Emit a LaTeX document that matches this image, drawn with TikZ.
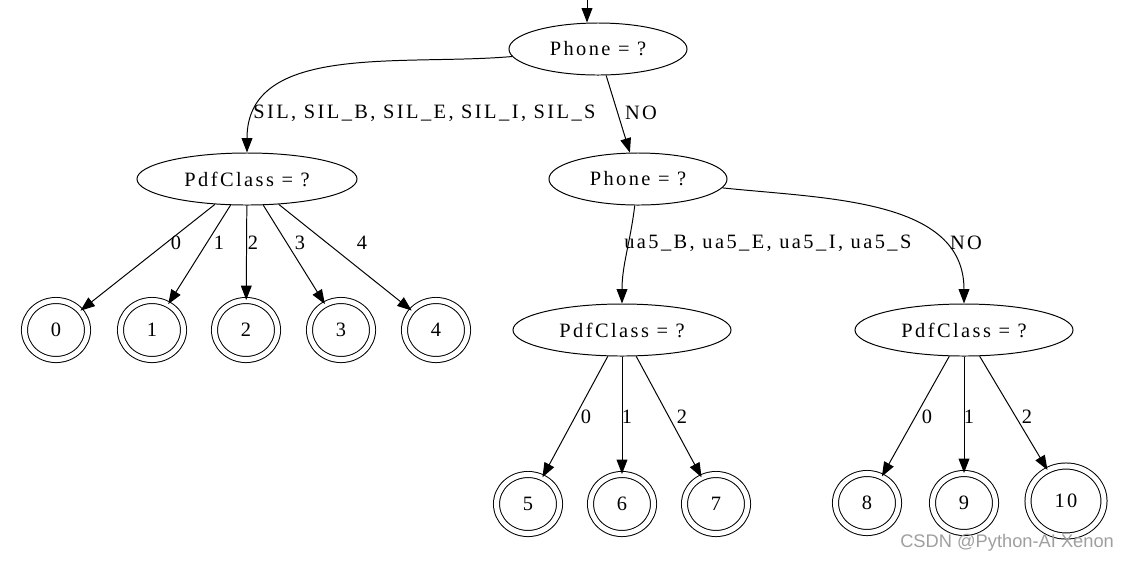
\documentclass[tikz,border=0pt]{standalone}
\usepackage{fontspec}
\setmainfont{Liberation Serif}[LetterSpace=12]
\newfontfamily\wmfont{Liberation Sans}
\usetikzlibrary{positioning, shapes, arrows.meta, calc}

\begin{document}
\begin{tikzpicture}[x=0.025cm, y=-0.025cm,
    font=\fontsize{14.5}{17}\selectfont,
    test/.style={ellipse, draw, line width=0.7pt, inner sep=0pt, minimum width=#1, minimum height=1.3cm},
    leaf/.style={ellipse, draw, double, double distance=3.6pt, line width=0.7pt, inner sep=0pt, minimum width=1.575cm, minimum height=1.475cm},
    branch/.style={-{Triangle[length=0.36cm, width=0.27cm]}, line width=0.7pt},
    lbl/.style={inner sep=0pt}]
    \useasboundingbox (0,0) rectangle (1129,562);

    % Nodes
    \node[test=4.45cm] (root) at (598,49) {Phone = ?};
    \node[test=5.5cm] (pdfA) at (247,179) {PdfClass = ?};
    \node[test=4.45cm] (phoneB) at (638,179) {Phone = ?};
    \node[test=5.45cm] (pdfB) at (622,330) {PdfClass = ?};
    \node[test=5.45cm] (pdfC) at (964,330) {PdfClass = ?};
    \foreach \i/\x in {0/56,1/152,2/246,3/341,4/436}
    \node[leaf] (leaf\i) at (\x,330) {\i};
    \foreach \i/\x in {5/528,6/622,7/716}
    \node[leaf] (leaf\i) at (\x,504) {\i};
    \foreach \i/\x in {8/867,9/964}
    \node[leaf] (leaf\i) at (\x,503) {\i};
    \node[leaf, minimum width=1.9cm, minimum height=1.75cm] (leaf10) at (1066,501) {10};
    \coordinate (start) at (587,0);

    % Arrows
    \draw[branch] (start) -- (start |- root.north);
    \draw[branch] (root) to[out=185, in=90] (pdfA);
    \draw[branch] (root) -- (phoneB);
    \draw[branch] (phoneB) to[out=-97, in=90] (pdfB);
    \draw[branch] (phoneB) to[out=-6, in=90] (pdfC);
    \foreach \i in {0,...,4}
    \draw[branch] (pdfA) -- (leaf\i);
    \foreach \i in {5,6,7}
    \draw[branch] (pdfB) -- (leaf\i);
    \foreach \i in {8,9,10}
    \draw[branch] (pdfC) -- (leaf\i);

    % Labels
    \node[lbl, anchor=west] (lblSil) at (253,113) {SIL, SIL\_B, SIL\_E, SIL\_I, SIL\_S};
    \node[lbl] (lblNoA) at (641,113) {NO};
    \node[lbl, anchor=west] (lblUa) at (624,243) {ua5\_B, ua5\_E, ua5\_I, ua5\_S};
    \node[lbl] (lblNoB) at (966,243) {NO};
    \foreach \i/\x in {0/176,1/219,2/253,3/300,4/362}
    \node[lbl] (numA\i) at (\x,243) {\i};
    \foreach \i/\x in {0/586,1/627,2/682}
    \node[lbl] (numB\i) at (\x,417) {\i};
    \foreach \i/\x in {0/927,1/969,2/1027}
    \node[lbl] (numC\i) at (\x,417) {\i};
    \node[anchor=west, inner sep=0pt, text=gray!75, font=\wmfont\fontsize{13}{15}\selectfont] (mark) at (900,543) {CSDN @Python-AI Xenon};
\end{tikzpicture}
\end{document}
